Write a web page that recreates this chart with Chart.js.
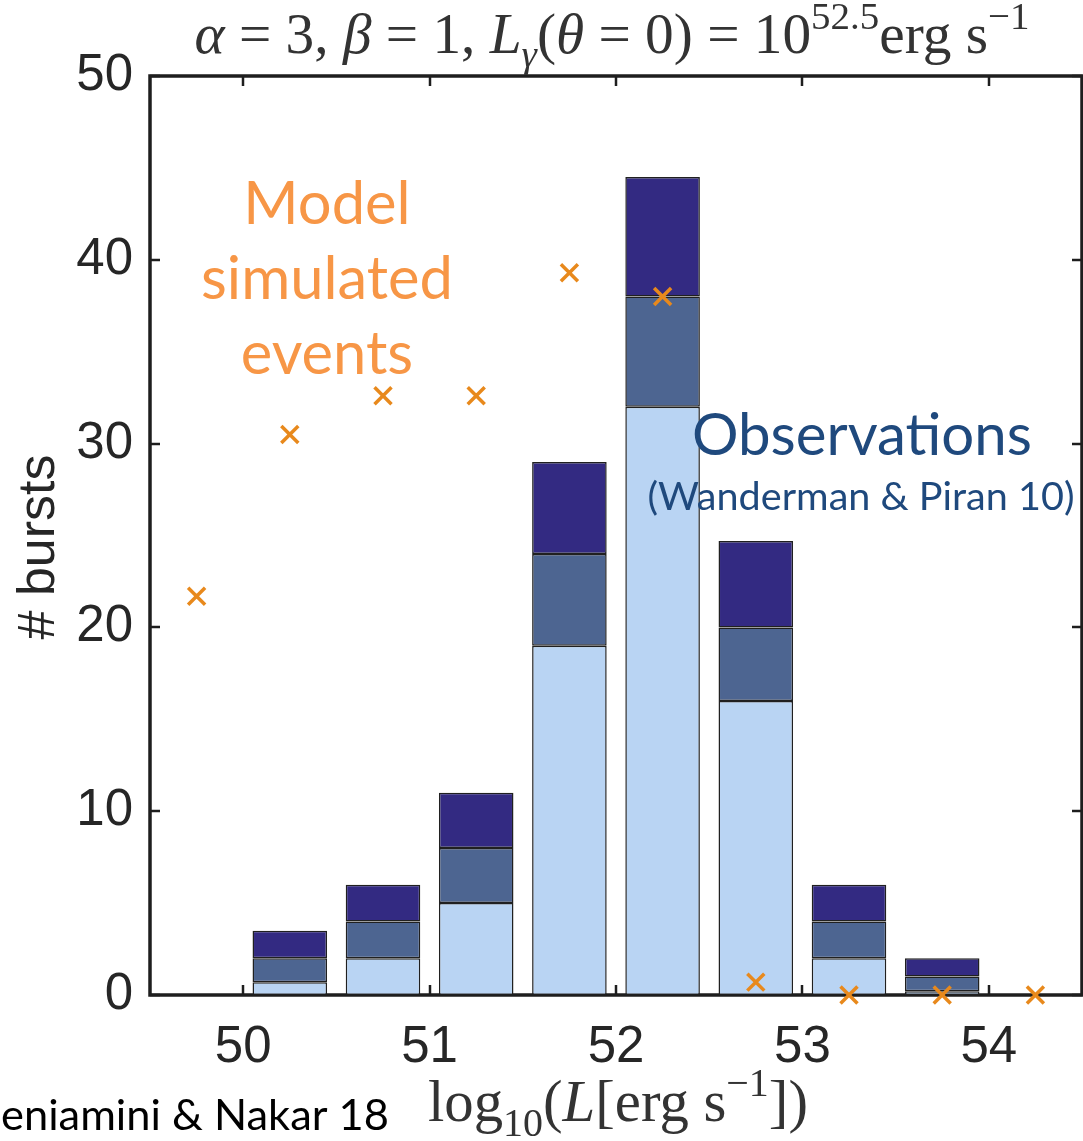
<!DOCTYPE html>
<html>
<head>
<meta charset="utf-8">
<script src="https://cdn.jsdelivr.net/npm/chart.js@4.4.0/dist/chart.umd.min.js"></script>
<style>
  html, body { margin: 0; padding: 0; background: #ffffff; }
  #wrap { width: 1083px; height: 1141px; position: relative; }
  canvas { display: block; }
</style>
</head>
<body>
<div id="wrap"><canvas id="c" width="1083" height="1141"></canvas></div>
<script>
// ---- data ----
const binCenters = [50.25, 50.75, 51.25, 51.75, 52.25, 52.75, 53.25, 53.75];
const obsLight = [0.7, 2, 5, 19, 32, 16, 2, 0.2];
const obsMid   = [1.3, 2, 3, 5, 6, 4, 2, 0.8];
const obsDark  = [1.5, 2, 3, 5, 6.5, 4.7, 2, 1];
const simX = [49.75, 50.25, 50.75, 51.25, 51.75, 52.25, 52.75, 53.25, 53.75, 54.25];
const simY = [21.7, 30.5, 32.6, 32.6, 39.3, 38.0, 0.7, 0, 0, 0];
const xTickValues = [50, 51, 52, 53, 54];
const yTickValues = [0, 10, 20, 30, 40, 50];

const pts = (xs, ys) => xs.map((x, i) => ({ x: x, y: ys[i] }));

const INK = '#262626';

function fitFont(ctx, text, width, family, weight) {
  ctx.font = `${weight || ''} 100px ${family}`;
  const w = ctx.measureText(text).width;
  return 100 * width / w;
}

function drawRich(ctx, segs, cx, baseline, size, family, color) {
  const fs = s => (s.sub || s.sup) ? size * 0.68 : size;
  const font = s => `${s.it ? 'italic ' : ''}${fs(s)}px ${family}`;
  let total = 0;
  const ws = segs.map(s => { ctx.font = font(s); const w = ctx.measureText(s.t).width; total += w; return w; });
  let x = cx - total / 2;
  ctx.fillStyle = color;
  ctx.textBaseline = 'alphabetic';
  ctx.textAlign = 'left';
  segs.forEach((s, i) => {
    ctx.font = font(s);
    let y = baseline;
    if (s.sub) y += size * 0.25;
    if (s.sup) y -= size * 0.42;
    ctx.fillText(s.t, x, y);
    x += ws[i];
  });
  return total;
}
function richWidth(ctx, segs, size, family) {
  let total = 0;
  segs.forEach(s => {
    const f = (s.sub || s.sup) ? size * 0.68 : size;
    ctx.font = `${s.it ? 'italic ' : ''}${f}px ${family}`;
    total += ctx.measureText(s.t).width;
  });
  return total;
}

const titleSegs = [
  { t: 'α', it: true }, { t: ' = 3, ' }, { t: 'β', it: true }, { t: ' = 1, ' },
  { t: 'L', it: true }, { t: 'γ', it: true, sub: true }, { t: '(' }, { t: 'θ', it: true },
  { t: ' = 0) = 10' }, { t: '52.5', sup: true }, { t: 'erg s' }, { t: '−1', sup: true }
];
const xLabelSegs = [
  { t: 'log' }, { t: '10', sub: true }, { t: '(' }, { t: 'L', it: true }, { t: '[erg s' },
  { t: '−1', sup: true }, { t: '])' }
];

const framePlugin = {
  id: 'frame',
  beforeDatasetsDraw(chart) {
    const { ctx, chartArea: a, scales } = chart;
    ctx.save();
    ctx.strokeStyle = '#1e1e1e';
    ctx.lineWidth = 2.5;
    // inward ticks
    xTickValues.forEach(v => {
      const px = Math.round(scales.x.getPixelForValue(v));
      ctx.beginPath(); ctx.moveTo(px, a.bottom); ctx.lineTo(px, a.bottom - 10); ctx.stroke();
      ctx.beginPath(); ctx.moveTo(px, a.top); ctx.lineTo(px, a.top + 10); ctx.stroke();
    });
    yTickValues.forEach(v => {
      const py = Math.round(scales.y.getPixelForValue(v));
      ctx.beginPath(); ctx.moveTo(a.left, py); ctx.lineTo(a.left + 10, py); ctx.stroke();
      ctx.beginPath(); ctx.moveTo(a.right, py); ctx.lineTo(a.right - 10, py); ctx.stroke();
    });
    ctx.lineWidth = 3.5;
    ctx.strokeRect(a.left, a.top, a.right - a.left, a.bottom - a.top);
    ctx.restore();
  },
  afterDraw(chart) {
    const { ctx } = chart;
    ctx.save();
    // title
    const tFam = '"Liberation Serif", "DejaVu Serif", serif';
    const tSize = 40 * 835 / richWidth(ctx, titleSegs, 40, tFam);
    drawRich(ctx, titleSegs, 612, 53, tSize, tFam, '#333333');
    // x label
    const xSize = 40 * 380 / richWidth(ctx, xLabelSegs, 40, tFam);
    drawRich(ctx, xLabelSegs, 618, 1121, xSize, tFam, '#333333');
    // y label
    const sFam = '"Liberation Sans", Arial, sans-serif';
    ctx.translate(40, 547);
    ctx.rotate(-Math.PI / 2);
    ctx.font = `${fitFont(ctx, '# bursts', 185, sFam)}px ${sFam}`;
    ctx.fillStyle = INK; ctx.textAlign = 'center'; ctx.textBaseline = 'middle';
    ctx.fillText('# bursts', 0, 0);
    ctx.setTransform(1, 0, 0, 1, 0, 0);

    // annotations
    const aFam = 'Lato, "Open Sans", sans-serif';
    ctx.textAlign = 'center'; ctx.textBaseline = 'middle';
    ctx.fillStyle = '#F79646';
    const mSize = fitFont(ctx, 'simulated', 252, aFam);
    ctx.font = `${mSize}px ${aFam}`;
    ctx.fillText('Model', 327, 205);
    ctx.fillText('simulated', 327, 280);
    ctx.fillText('events', 327, 355);
    ctx.fillStyle = '#1F497D';
    ctx.font = `${fitFont(ctx, 'Observations', 340, aFam)}px ${aFam}`;
    ctx.fillText('Observations', 862, 436);
    ctx.font = `${fitFont(ctx, '(Wanderman & Piran 10)', 427, aFam)}px ${aFam}`;
    ctx.fillText('(Wanderman & Piran 10)', 861, 497);
    ctx.fillStyle = '#000000';
    ctx.textAlign = 'left';
    ctx.font = `${fitFont(ctx, 'eniamini & Nakar 18', 388, aFam)}px ${aFam}`;
    ctx.fillText('eniamini & Nakar 18', 1, 1116);
    ctx.restore();
  }
};

const barCommon = { borderColor: '#202020', borderWidth: 1.5, barPercentage: 0.8, categoryPercentage: 1.0, borderSkipped: false };
const tickFont = { family: '"Liberation Sans", Arial, sans-serif', size: 51 };

new Chart(document.getElementById('c'), {
  type: 'bar',
  data: {
    datasets: [
      Object.assign({ label: 'obs1', data: pts(binCenters, obsLight), backgroundColor: '#B9D4F3' }, barCommon),
      Object.assign({ label: 'obs2', data: pts(binCenters, obsMid), backgroundColor: '#4D6591' }, barCommon),
      Object.assign({ label: 'obs3', data: pts(binCenters, obsDark), backgroundColor: '#332A82' }, barCommon),
      {
        type: 'scatter', label: 'sim', stack: 'sim', data: pts(simX, simY),
        pointStyle: 'crossRot', radius: 12, borderColor: '#E8891C', borderWidth: 3.5,
        backgroundColor: '#E8891C', clip: false, order: -1
      }
    ]
  },
  options: {
    responsive: false,
    devicePixelRatio: 1,
    animation: false,
    events: [],
    layout: { autoPadding: false, padding: { top: 76, right: 1, left: 0, bottom: 0 } },
    plugins: { legend: { display: false }, tooltip: { enabled: false }, title: { display: false } },
    scales: {
      x: {
        type: 'linear', min: 49.5, max: 54.5, stacked: true, offset: false,
        grid: { display: false, drawTicks: false },
        border: { display: false },
        afterBuildTicks: s => { s.ticks = xTickValues.map(v => ({ value: v })); },
        afterFit: s => { s.height = 146; s.paddingLeft = 0; s.paddingRight = 0; },
        ticks: { color: INK, padding: 22, font: tickFont, maxRotation: 0, autoSkip: false }
      },
      y: {
        min: 0, max: 50, stacked: true,
        grid: { display: false, drawTicks: false },
        border: { display: false },
        afterBuildTicks: s => { s.ticks = yTickValues.map(v => ({ value: v })); },
        afterFit: s => { s.width = 150; s.paddingTop = 0; s.paddingBottom = 0; },
        ticks: { color: INK, padding: 17, font: tickFont }
      }
    }
  },
  plugins: [framePlugin]
});
</script>
</body>
</html>
